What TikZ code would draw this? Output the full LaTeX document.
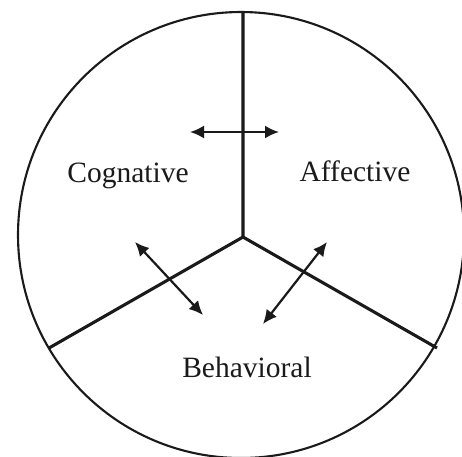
\documentclass[tikz,border=0pt]{standalone}
\usepackage{fontspec}
\setmainfont{Liberation Serif}
\usetikzlibrary{arrows.meta}
\definecolor{ink}{HTML}{1A1A1A}
\tikzset{
  rim/.style={draw=ink, line width=2.1pt},
  spoke/.style={draw=ink, line width=3.1pt},
  link/.style={draw=ink, line width=2.2pt, {Latex[length=14pt,width=13pt]}-{Latex[length=14pt,width=13pt]}},
  lbl/.style={text=ink, font=\fontsize{29.5}{32}\selectfont, inner sep=0pt}
}
\begin{document}
\begin{tikzpicture}[x=1pt,y=-1pt]
\clip (0,0) rectangle (462,456);
\fill[white] (0,0) rectangle (462,456);
\coordinate (c) at (241,235);
\coordinate (hub) at (243,237);
\coordinate (top) at (243,12);
\coordinate (lft) at (49,348);
\coordinate (rgt) at (437,348);
\draw[rim] (c) circle (223);
\draw[spoke] (top) -- (hub) -- (lft);
\draw[spoke] (hub) -- (rgt);
\node[lbl] (cog) at (128,176) {Cognative};
\node[lbl] (aff) at (355,171) {Affective};
\node[lbl] (beh) at (247,367) {Behavioral};
\coordinate (h1) at (190,132);
\coordinate (h2) at (279,132);
\coordinate (l1) at (135,242);
\coordinate (l2) at (203,315);
\coordinate (r1) at (327,242);
\coordinate (r2) at (263,324);
\draw[link] (h1) -- (h2);
\draw[link] (l1) -- (l2);
\draw[link] (r1) -- (r2);
\end{tikzpicture}
\end{document}
